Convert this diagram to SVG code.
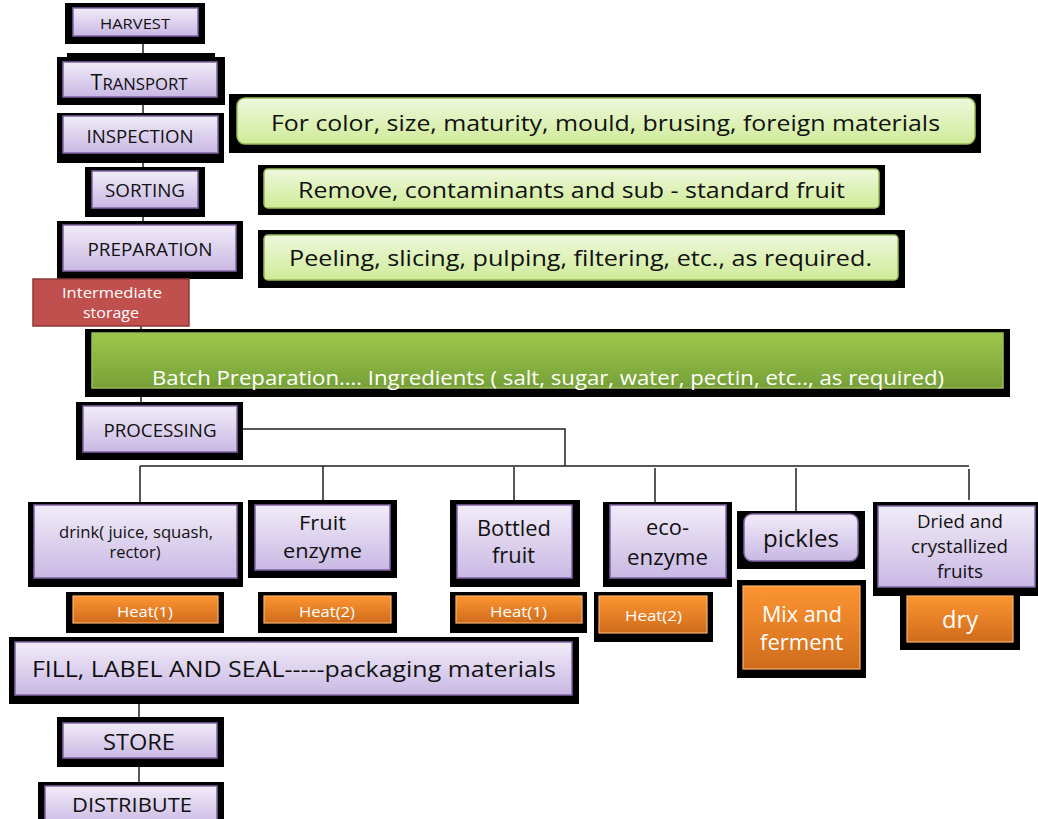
<svg xmlns="http://www.w3.org/2000/svg" width="1038" height="819" viewBox="0 0 1038 819">
<defs>
<linearGradient id="gP" x1="0" y1="0" x2="0" y2="1"><stop offset="0" stop-color="#f1ecf8"/><stop offset="1" stop-color="#c9b8e4"/></linearGradient>
<linearGradient id="gG" x1="0" y1="0" x2="0" y2="1"><stop offset="0" stop-color="#eef8dc"/><stop offset="1" stop-color="#cfeb98"/></linearGradient>
<linearGradient id="gB" x1="0" y1="0" x2="0" y2="1"><stop offset="0" stop-color="#9cc84b"/><stop offset="1" stop-color="#76a038"/></linearGradient>
<linearGradient id="gO" x1="0" y1="0" x2="0" y2="1"><stop offset="0" stop-color="#fd9532"/><stop offset="1" stop-color="#cf6c1c"/></linearGradient>
</defs>
<style>
.sh{fill:#000}
.p{fill:url(#gP);stroke:#8064a2;stroke-width:1.5}
.g{fill:url(#gG);stroke:#9bbb59;stroke-width:1.5}
.b{fill:url(#gB);stroke:#9bbb59;stroke-width:1.5}
.o{fill:url(#gO);stroke:#f9b36e;stroke-width:1.2}
.r{fill:#c0504d;stroke:#8c3836;stroke-width:1.5}
text{font-family:"Open Sans","Liberation Sans",sans-serif;text-anchor:middle}
.t{fill:#111}
.w{fill:#fff}
.c{fill:none;stroke:#222;stroke-width:1.5}
</style>
<rect width="1038" height="819" fill="#fff"/>
<g id="connectors">
<path class="c" d="M143 36V225M141 279V402M243 429H565V466M140 466H969M140 466V502M323 466V500M514 467V500M655 468V502M796 468V511M969 469V500M139 704V782"/>
</g>
<g id="harvest"><rect class="sh" x="65" y="3" width="140" height="41"/><rect class="p" x="73" y="8" width="125" height="28"/><text class="t" x="135" y="29" font-size="15" textLength="70" lengthAdjust="spacingAndGlyphs">HARVEST</text></g>
<g id="transport"><rect class="sh" x="67" y="53" width="148" height="8"/><rect class="sh" x="57" y="57" width="168" height="48"/><rect class="p" x="63" y="62" width="154" height="35"/><text class="t" x="139" y="90" font-size="17" textLength="97" lengthAdjust="spacingAndGlyphs"><tspan font-size="22">T</tspan>RANSPORT</text></g>
<g id="inspection"><rect class="sh" x="57" y="113" width="167" height="50"/><rect class="p" x="63" y="116" width="155" height="37"/><text class="t" x="140" y="143" font-size="18" textLength="107" lengthAdjust="spacingAndGlyphs">INSPECTION</text></g>
<g id="sorting"><rect class="sh" x="85" y="167" width="120" height="50"/><rect class="p" x="92" y="171" width="106" height="37"/><text class="t" x="145" y="197" font-size="18" textLength="80" lengthAdjust="spacingAndGlyphs">SORTING</text></g>
<g id="preparation"><rect class="sh" x="57" y="221" width="186" height="58"/><rect class="p" x="63" y="225" width="173" height="46"/><text class="t" x="150" y="256" font-size="18" textLength="125" lengthAdjust="spacingAndGlyphs">PREPARATION</text></g>
<g id="intermediate"><rect class="r" x="33" y="279" width="156" height="47"/><text class="w" x="112" y="298" font-size="15" textLength="100" lengthAdjust="spacingAndGlyphs">Intermediate</text><text class="w" x="111" y="318" font-size="15" textLength="56" lengthAdjust="spacingAndGlyphs">storage</text></g>
<g id="note-inspection"><rect class="sh" x="229" y="94" width="752" height="59"/><rect class="g" x="237" y="98" width="738" height="46" rx="8"/><text class="t" x="605.5" y="131" font-size="22" textLength="669" lengthAdjust="spacingAndGlyphs">For color, size, maturity, mould, brusing, foreign materials</text></g>
<g id="note-sorting"><rect class="sh" x="258" y="165" width="627" height="50"/><rect class="g" x="264" y="169" width="615" height="39" rx="4"/><text class="t" x="571.5" y="198" font-size="22" textLength="547" lengthAdjust="spacingAndGlyphs">Remove, contaminants and sub - standard fruit</text></g>
<g id="note-preparation"><rect class="sh" x="258" y="230" width="647" height="58"/><rect class="g" x="264" y="235" width="634" height="45" rx="4"/><text class="t" x="580.5" y="266" font-size="22" textLength="583" lengthAdjust="spacingAndGlyphs">Peeling, slicing, pulping, filtering, etc., as required.</text></g>
<g id="batch"><rect class="sh" x="85" y="329" width="925" height="68"/><rect class="b" x="92" y="333" width="911" height="55"/><text class="w" x="548" y="385" font-size="20" textLength="792" lengthAdjust="spacingAndGlyphs">Batch Preparation…. Ingredients ( salt, sugar, water, pectin, etc.., as required)</text></g>
<g id="processing"><rect class="sh" x="76" y="402" width="167" height="58"/><rect class="p" x="83" y="406" width="154" height="46"/><text class="t" x="160" y="437" font-size="18" textLength="113" lengthAdjust="spacingAndGlyphs">PROCESSING</text></g>
<g id="drink"><rect class="sh" x="28" y="502" width="215" height="85"/><rect class="p" x="34" y="505" width="203" height="73"/><text class="t" x="136" y="538" font-size="16" textLength="154" lengthAdjust="spacingAndGlyphs">drink( juice, squash,</text><text class="t" x="135" y="558" font-size="16" textLength="51" lengthAdjust="spacingAndGlyphs">rector)</text></g>
<g id="heat1a"><rect class="sh" x="66" y="592" width="158" height="41"/><rect class="o" x="73" y="596" width="145" height="27"/><text class="w" x="145" y="617" font-size="15" textLength="56" lengthAdjust="spacingAndGlyphs">Heat(1)</text></g>
<g id="fruit-enzyme"><rect class="sh" x="248" y="500" width="149" height="78"/><rect class="p" x="255" y="505" width="135" height="65"/><text class="t" x="322.5" y="530" font-size="20" textLength="47" lengthAdjust="spacingAndGlyphs">Fruit</text><text class="t" x="322.5" y="558" font-size="20" textLength="79" lengthAdjust="spacingAndGlyphs">enzyme</text></g>
<g id="heat2a"><rect class="sh" x="258" y="592" width="139" height="41"/><rect class="o" x="264" y="596" width="127" height="27"/><text class="w" x="327" y="617" font-size="15" textLength="56" lengthAdjust="spacingAndGlyphs">Heat(2)</text></g>
<g id="bottled"><rect class="sh" x="450" y="500" width="130" height="87"/><rect class="p" x="457" y="505" width="115" height="73"/><text class="t" x="514" y="536" font-size="21" textLength="74" lengthAdjust="spacingAndGlyphs">Bottled</text><text class="t" x="513.5" y="563" font-size="21" textLength="43" lengthAdjust="spacingAndGlyphs">fruit</text></g>
<g id="heat1b"><rect class="sh" x="450" y="592" width="137" height="41"/><rect class="o" x="456" y="596" width="126" height="27"/><text class="w" x="518.5" y="617" font-size="15" textLength="57" lengthAdjust="spacingAndGlyphs">Heat(1)</text></g>
<g id="eco-enzyme"><rect class="sh" x="603" y="502" width="129" height="85"/><rect class="p" x="610" y="505" width="116" height="73"/><text class="t" x="667.5" y="535" font-size="21" textLength="43" lengthAdjust="spacingAndGlyphs">eco-</text><text class="t" x="667.5" y="565" font-size="21" textLength="81" lengthAdjust="spacingAndGlyphs">enzyme</text></g>
<g id="heat2b"><rect class="sh" x="594" y="592" width="119" height="50"/><rect class="o" x="599" y="596" width="108" height="37"/><text class="w" x="653.5" y="621" font-size="15" textLength="57" lengthAdjust="spacingAndGlyphs">Heat(2)</text></g>
<g id="pickles"><rect class="sh" x="737" y="511" width="128" height="58"/><rect class="p" x="744" y="514" width="114" height="47" rx="8"/><text class="t" x="801" y="547" font-size="23" textLength="76" lengthAdjust="spacingAndGlyphs">pickles</text></g>
<g id="mix-ferment"><rect class="sh" x="737" y="580" width="129" height="98"/><rect class="o" x="743" y="586" width="117" height="83"/><text class="w" x="802" y="622" font-size="21" textLength="80" lengthAdjust="spacingAndGlyphs">Mix and</text><text class="w" x="801.5" y="650" font-size="21" textLength="83" lengthAdjust="spacingAndGlyphs">ferment</text></g>
<g id="dried"><rect class="sh" x="873" y="502" width="165" height="94"/><rect class="p" x="878" y="506" width="157" height="81"/><text class="t" x="960" y="528" font-size="18" textLength="86" lengthAdjust="spacingAndGlyphs">Dried and</text><text class="t" x="959.5" y="553" font-size="18" textLength="97" lengthAdjust="spacingAndGlyphs">crystallized</text><text class="t" x="960" y="578" font-size="18" textLength="46" lengthAdjust="spacingAndGlyphs">fruits</text></g>
<g id="dry"><rect class="sh" x="900" y="592" width="120" height="58"/><rect class="o" x="907" y="596" width="106" height="46"/><text class="w" x="960" y="628" font-size="24" textLength="36" lengthAdjust="spacingAndGlyphs">dry</text></g>
<g id="fill"><rect class="sh" x="9" y="637" width="570" height="67"/><rect class="p" x="15" y="642" width="557" height="53"/><text class="t" x="294" y="677" font-size="22" textLength="524" lengthAdjust="spacingAndGlyphs">FILL, LABEL AND SEAL-----packaging materials</text></g>
<g id="store"><rect class="sh" x="57" y="717" width="167" height="50"/><rect class="p" x="63" y="723" width="154" height="35"/><text class="t" x="139" y="750" font-size="22" textLength="72" lengthAdjust="spacingAndGlyphs">STORE</text></g>
<g id="distribute"><rect class="sh" x="38" y="782" width="186" height="40"/><rect class="p" x="45" y="786" width="172" height="40"/><text class="t" x="132" y="812" font-size="20" textLength="120" lengthAdjust="spacingAndGlyphs">DISTRIBUTE</text></g>
</svg>
